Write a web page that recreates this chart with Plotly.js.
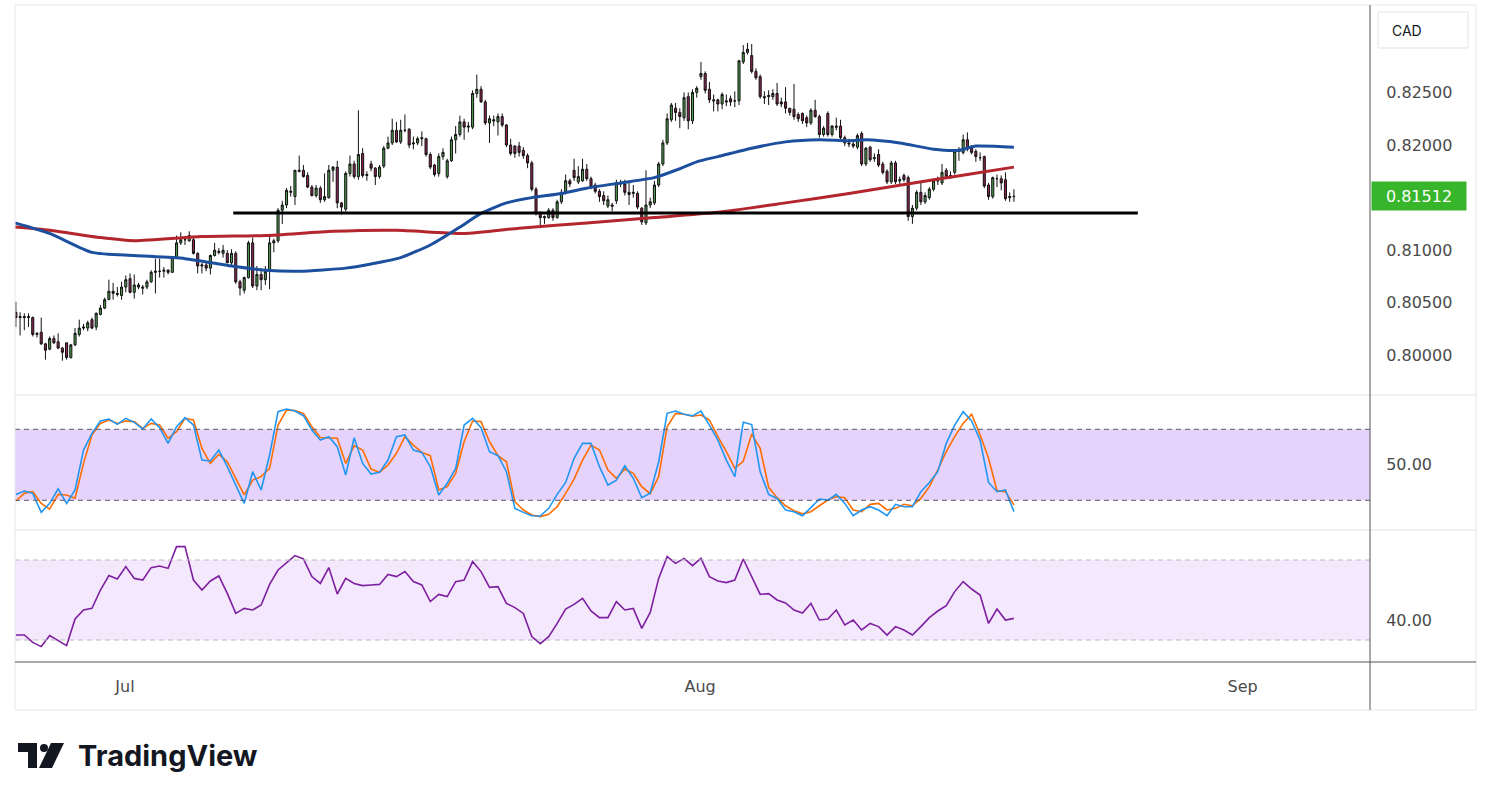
<!DOCTYPE html>
<html>
<head>
<meta charset="utf-8">
<script src="https://cdn.plot.ly/plotly-3.0.1.min.js"></script>
<style>
  html, body { margin: 0; padding: 0; background: #fff; }
  #chart { width: 1491px; height: 800px; }
</style>
</head>
<body>
<div id="chart"></div>
<script>
// 4h candles, one entry per bar (index 0 = first bar on the left)
const open = [
  0.8041,0.8036,0.8037,0.8036,0.8036,0.8020,0.8022,0.8011,0.8006,0.8016,
  0.8013,0.8007,0.8012,0.7998,0.8010,0.8020,0.8026,0.8026,0.8034,0.8027,
  0.8039,0.8045,0.8053,0.8061,0.8059,0.8057,0.8065,0.8073,0.8060,0.8067,
  0.8065,0.8065,0.8070,0.8079,0.8080,0.8080,0.8081,0.8079,0.8093,0.8107,
  0.8110,0.8109,0.8110,0.8097,0.8085,0.8086,0.8083,0.8095,0.8099,0.8097,
  0.8097,0.8088,0.8097,0.8070,0.8062,0.8074,0.8107,0.8066,0.8077,0.8072,
  0.8081,0.8107,0.8109,0.8138,0.8143,0.8155,0.8151,0.8176,0.8176,0.8171,
  0.8160,0.8152,0.8159,0.8148,0.8150,0.8176,0.8179,0.8145,0.8139,0.8173,
  0.8182,0.8170,0.8192,0.8171,0.8182,0.8178,0.8170,0.8180,0.8197,0.8202,
  0.8214,0.8203,0.8214,0.8215,0.8201,0.8202,0.8206,0.8206,0.8191,0.8181,
  0.8173,0.8189,0.8170,0.8185,0.8205,0.8210,0.8222,0.8217,0.8217,0.8249,
  0.8253,0.8241,0.8221,0.8224,0.8222,0.8227,0.8219,0.8200,0.8199,0.8199,
  0.8195,0.8190,0.8183,0.8158,0.8136,0.8132,0.8131,0.8138,0.8131,0.8146,
  0.8155,0.8166,0.8176,0.8165,0.8166,0.8177,0.8168,0.8162,0.8156,0.8152,
  0.8142,0.8143,0.8147,0.8163,0.8163,0.8155,0.8154,0.8154,0.8140,0.8126,
  0.8143,0.8145,0.8162,0.8182,0.8202,0.8224,0.8235,0.8231,0.8226,0.8246,
  0.8223,0.8250,0.8265,0.8268,0.8253,0.8243,0.8243,0.8239,0.8242,0.8244,
  0.8242,0.8242,0.8279,0.8288,0.8285,0.8270,0.8265,0.8246,0.8246,0.8246,
  0.8249,0.8241,0.8241,0.8235,0.8234,0.8229,0.8230,0.8226,0.8221,0.8233,
  0.8227,0.8210,0.8230,0.8210,0.8218,0.8218,0.8207,0.8202,0.8201,0.8198,
  0.8211,0.8182,0.8198,0.8187,0.8191,0.8182,0.8175,0.8165,0.8183,0.8166,
  0.8171,0.8169,0.8132,0.8140,0.8155,0.8146,0.8150,0.8158,0.8166,0.8164,
  0.8176,0.8171,0.8174,0.8194,0.8193,0.8205,0.8197,0.8194,0.8188,0.8189,
  0.8162,0.8151,0.8168,0.8168,0.8167,0.8150,0.8151
];
const high = [
  0.8051,0.8041,0.8040,0.8040,0.8037,0.8022,0.8036,0.8012,0.8018,0.8019,
  0.8021,0.8008,0.8012,0.8011,0.8026,0.8034,0.8030,0.8033,0.8036,0.8041,
  0.8048,0.8055,0.8072,0.8069,0.8065,0.8070,0.8076,0.8078,0.8077,0.8069,
  0.8067,0.8072,0.8081,0.8092,0.8092,0.8084,0.8082,0.8093,0.8114,0.8117,
  0.8112,0.8118,0.8112,0.8098,0.8088,0.8089,0.8096,0.8107,0.8102,0.8105,
  0.8100,0.8101,0.8099,0.8072,0.8075,0.8109,0.8112,0.8085,0.8083,0.8085,
  0.8113,0.8111,0.8140,0.8147,0.8159,0.8161,0.8176,0.8190,0.8181,0.8174,
  0.8162,0.8162,0.8161,0.8173,0.8181,0.8180,0.8185,0.8146,0.8175,0.8190,
  0.8185,0.8233,0.8197,0.8175,0.8185,0.8179,0.8181,0.8199,0.8208,0.8225,
  0.8222,0.8224,0.8229,0.8216,0.8208,0.8208,0.8213,0.8207,0.8193,0.8182,
  0.8192,0.8197,0.8187,0.8208,0.8218,0.8228,0.8225,0.8222,0.8252,0.8267,
  0.8256,0.8243,0.8228,0.8228,0.8230,0.8230,0.8220,0.8206,0.8200,0.8203,
  0.8198,0.8192,0.8185,0.8160,0.8137,0.8133,0.8140,0.8140,0.8148,0.8158,
  0.8172,0.8168,0.8187,0.8180,0.8187,0.8182,0.8170,0.8164,0.8158,0.8156,
  0.8152,0.8145,0.8167,0.8167,0.8167,0.8166,0.8162,0.8156,0.8141,0.8176,
  0.8150,0.8166,0.8184,0.8205,0.8230,0.8240,0.8240,0.8235,0.8250,0.8250,
  0.8253,0.8256,0.8279,0.8270,0.8260,0.8248,0.8244,0.8250,0.8248,0.8247,
  0.8251,0.8281,0.8295,0.8297,0.8296,0.8273,0.8267,0.8251,0.8252,0.8253,
  0.8259,0.8245,0.8255,0.8235,0.8258,0.8231,0.8231,0.8228,0.8235,0.8243,
  0.8229,0.8218,0.8232,0.8219,0.8226,0.8224,0.8209,0.8206,0.8205,0.8211,
  0.8213,0.8198,0.8199,0.8192,0.8196,0.8184,0.8177,0.8185,0.8185,0.8170,
  0.8173,0.8171,0.8143,0.8157,0.8165,0.8155,0.8160,0.8168,0.8170,0.8182,
  0.8178,0.8175,0.8196,0.8198,0.8210,0.8212,0.8200,0.8196,0.8193,0.8190,
  0.8164,0.8170,0.8172,0.8171,0.8174,0.8155,0.8158
];
const low = [
  0.8027,0.8019,0.8024,0.8027,0.8018,0.8017,0.8010,0.7996,0.8005,0.8011,
  0.8006,0.7995,0.7996,0.7997,0.8009,0.8018,0.8024,0.8023,0.8025,0.8024,
  0.8038,0.8044,0.8053,0.8053,0.8056,0.8053,0.8060,0.8059,0.8054,0.8063,
  0.8058,0.8063,0.8069,0.8059,0.8074,0.8074,0.8077,0.8079,0.8092,0.8105,
  0.8105,0.8108,0.8096,0.8078,0.8078,0.8080,0.8077,0.8094,0.8096,0.8093,
  0.8088,0.8085,0.8068,0.8057,0.8059,0.8073,0.8064,0.8062,0.8062,0.8067,
  0.8063,0.8098,0.8107,0.8125,0.8140,0.8151,0.8143,0.8174,0.8169,0.8159,
  0.8151,0.8150,0.8145,0.8146,0.8149,0.8165,0.8140,0.8134,0.8137,0.8170,
  0.8168,0.8167,0.8169,0.8166,0.8175,0.8162,0.8168,0.8178,0.8196,0.8200,
  0.8202,0.8201,0.8212,0.8197,0.8196,0.8200,0.8199,0.8189,0.8177,0.8170,
  0.8170,0.8186,0.8168,0.8184,0.8192,0.8208,0.8205,0.8212,0.8215,0.8245,
  0.8240,0.8219,0.8202,0.8218,0.8209,0.8217,0.8198,0.8190,0.8188,0.8189,
  0.8187,0.8178,0.8156,0.8133,0.8121,0.8125,0.8130,0.8128,0.8130,0.8144,
  0.8153,0.8160,0.8166,0.8163,0.8165,0.8166,0.8158,0.8154,0.8146,0.8143,
  0.8140,0.8137,0.8144,0.8160,0.8152,0.8143,0.8150,0.8139,0.8124,0.8124,
  0.8140,0.8143,0.8160,0.8180,0.8200,0.8222,0.8223,0.8216,0.8223,0.8215,
  0.8220,0.8245,0.8262,0.8249,0.8240,0.8232,0.8232,0.8234,0.8237,0.8237,
  0.8236,0.8238,0.8277,0.8286,0.8268,0.8262,0.8244,0.8239,0.8238,0.8243,
  0.8237,0.8236,0.8230,0.8228,0.8224,0.8222,0.8220,0.8217,0.8219,0.8226,
  0.8207,0.8208,0.8208,0.8208,0.8214,0.8205,0.8199,0.8198,0.8197,0.8196,
  0.8180,0.8180,0.8184,0.8184,0.8179,0.8172,0.8163,0.8163,0.8163,0.8163,
  0.8165,0.8128,0.8125,0.8138,0.8143,0.8144,0.8148,0.8156,0.8162,0.8162,
  0.8168,0.8168,0.8172,0.8185,0.8191,0.8194,0.8191,0.8184,0.8185,0.8159,
  0.8148,0.8149,0.8160,0.8157,0.8147,0.8146,0.8146
];
const close = [
  0.8036,0.8037,0.8036,0.8037,0.8020,0.8021,0.8011,0.8005,0.8016,0.8012,
  0.8007,0.8003,0.7998,0.8010,0.8021,0.8026,0.8027,0.8031,0.8026,0.8040,
  0.8045,0.8053,0.8061,0.8059,0.8058,0.8065,0.8072,0.8060,0.8067,0.8065,
  0.8064,0.8070,0.8079,0.8080,0.8080,0.8081,0.8079,0.8093,0.8107,0.8110,
  0.8110,0.8114,0.8097,0.8085,0.8086,0.8083,0.8095,0.8100,0.8098,0.8100,
  0.8088,0.8097,0.8070,0.8064,0.8074,0.8107,0.8066,0.8077,0.8072,0.8080,
  0.8107,0.8109,0.8138,0.8143,0.8157,0.8156,0.8176,0.8175,0.8170,0.8160,
  0.8152,0.8159,0.8148,0.8151,0.8176,0.8179,0.8145,0.8141,0.8173,0.8182,
  0.8170,0.8191,0.8171,0.8172,0.8178,0.8170,0.8179,0.8197,0.8202,0.8214,
  0.8203,0.8214,0.8214,0.8200,0.8202,0.8206,0.8207,0.8191,0.8179,0.8172,
  0.8189,0.8193,0.8185,0.8205,0.8210,0.8222,0.8217,0.8218,0.8249,0.8253,
  0.8241,0.8221,0.8225,0.8223,0.8227,0.8219,0.8200,0.8192,0.8192,0.8193,
  0.8190,0.8183,0.8158,0.8135,0.8131,0.8131,0.8138,0.8131,0.8146,0.8155,
  0.8166,0.8163,0.8169,0.8170,0.8177,0.8168,0.8160,0.8156,0.8151,0.8147,
  0.8148,0.8142,0.8164,0.8164,0.8155,0.8153,0.8155,0.8141,0.8127,0.8143,
  0.8146,0.8162,0.8182,0.8202,0.8225,0.8238,0.8231,0.8227,0.8245,0.8223,
  0.8250,0.8254,0.8268,0.8252,0.8243,0.8242,0.8239,0.8248,0.8241,0.8241,
  0.8242,0.8280,0.8288,0.8291,0.8270,0.8264,0.8246,0.8245,0.8247,0.8249,
  0.8239,0.8239,0.8235,0.8231,0.8227,0.8225,0.8223,0.8221,0.8233,0.8227,
  0.8210,0.8216,0.8210,0.8218,0.8217,0.8207,0.8202,0.8201,0.8199,0.8209,
  0.8182,0.8197,0.8186,0.8188,0.8181,0.8174,0.8165,0.8183,0.8165,0.8167,
  0.8167,0.8132,0.8140,0.8155,0.8146,0.8152,0.8158,0.8166,0.8166,0.8174,
  0.8170,0.8171,0.8194,0.8195,0.8205,0.8196,0.8193,0.8189,0.8188,0.8161,
  0.8151,0.8169,0.8168,0.8164,0.8149,0.8151,0.81512
];

// moving averages, read at a few bars and drawn as smooth lines
const maFastBar = [-0.2, 8, 18, 28, 40, 51, 59, 67, 78, 84, 91, 98, 101, 105, 110, 116, 122, 129, 135,
  143, 151, 156, 161, 166, 174, 182, 190, 197, 201, 209, 217, 223, 227, 236];
const maFast = [0.8126, 0.8116, 0.8098, 0.8095, 0.8092, 0.8085, 0.8081, 0.8080, 0.8083, 0.8087,
  0.8093, 0.8105, 0.8112, 0.8122, 0.8135, 0.8145, 0.8150, 0.8154, 0.8159, 0.8164, 0.8169, 0.8176,
  0.8184, 0.8189, 0.8197, 0.8203, 0.8205, 0.8204, 0.8205, 0.8202, 0.8196, 0.8195, 0.8199, 0.8198];
const maSlowBar = [-0.2, 8, 20, 28, 44, 59, 75, 90, 106, 119, 135, 151, 166, 182, 197, 217, 225, 236];
const maSlow = [0.8122, 0.8119, 0.8112, 0.8109, 0.8113, 0.8114, 0.8118, 0.8119, 0.8116, 0.8121,
  0.8126, 0.8131, 0.8136, 0.8145, 0.8154, 0.8167, 0.8172, 0.8179];

// horizontal support drawn on the chart
const supportLevel = 0.81354;
const supportBars = [51.4, 265.3];

// oscillators, read every second bar
const stochK = [
  25.0, 27.8, 25.9, 9.8, 17.4, 29.6, 17.4, 28.7, 62.5, 76.6,
  87.0, 88.7, 84.2, 89.3, 85.9, 80.3, 88.7, 81.4, 68.1, 82.2,
  89.9, 83.6, 54.0, 53.2, 62.5, 48.4, 32.9, 17.4, 44.2, 28.7,
  58.3, 94.9, 97.2, 95.5, 91.5, 79.4, 71.0, 73.8, 65.3, 41.4,
  72.9, 51.2, 42.2, 43.6, 54.0, 73.8, 75.2, 62.5, 60.5, 48.4,
  24.5, 34.4, 47.0, 83.6, 89.3, 81.4, 61.1, 57.7, 44.2, 13.2,
  9.8, 7.0, 6.7, 13.2, 25.0, 35.1, 55.5, 68.1, 68.1, 48.4,
  32.9, 37.1, 49.2, 38.6, 22.2, 25.9, 52.6, 93.5, 95.5, 92.7,
  91.4, 95.5, 83.6, 70.9, 54.0, 39.9, 86.0, 84.0, 44.2, 25.0,
  21.6, 11.8, 10.4, 7.0, 13.8, 21.1, 20.2, 25.0, 17.4, 7.0,
  11.8, 14.6, 11.8, 7.0, 16.6, 14.6, 14.6, 27.3, 35.1, 44.2,
  68.1, 83.6, 94.9, 87.0, 70.9, 35.1, 27.3, 28.7, 10.4
];
const stochD = [
  19.4, 25.9, 27.3, 17.4, 12.6, 25.0, 24.5, 21.7, 51.2, 75.2,
  85.0, 87.9, 85.0, 87.0, 86.5, 80.8, 85.0, 83.6, 72.4, 78.0,
  89.3, 87.9, 63.9, 51.2, 58.9, 52.6, 38.6, 24.5, 37.1, 40.0,
  47.0, 83.6, 96.3, 95.8, 93.5, 82.2, 73.0, 73.0, 72.4, 51.2,
  66.2, 62.5, 46.4, 43.6, 49.8, 59.7, 73.8, 66.7, 60.5, 57.7,
  28.7, 31.5, 42.8, 69.5, 87.0, 86.5, 69.5, 57.7, 52.6, 18.8,
  11.8, 7.6, 6.2, 8.2, 14.6, 25.9, 37.9, 54.0, 66.7, 62.5,
  45.6, 38.6, 46.4, 42.8, 31.5, 25.6, 40.0, 82.2, 93.5, 92.7,
  91.0, 92.1, 87.9, 73.8, 61.1, 47.0, 53.0, 76.0, 64.0, 31.0,
  22.2, 15.4, 11.2, 8.6, 10.4, 15.4, 20.2, 23.1, 22.2, 11.8,
  10.4, 16.6, 17.4, 11.8, 13.2, 16.6, 15.4, 21.6, 31.5, 45.6,
  61.1, 73.8, 85.0, 92.7, 75.4, 55.5, 28.1, 27.3, 16.1
];
const rsi = [
  32.5, 32.5, 28.8, 26.7, 32.2, 29.5, 27.2, 40.5, 45.0, 45.8,
  55.0, 62.2, 60.5, 66.7, 60.8, 60.0, 66.2, 67.0, 65.8, 76.7,
  76.7, 60.0, 55.0, 59.5, 62.0, 53.3, 43.3, 45.8, 45.0, 47.5,
  57.8, 65.0, 68.7, 72.2, 70.5, 61.7, 58.3, 66.2, 53.0, 60.8,
  58.3, 57.2, 57.5, 57.8, 62.8, 61.7, 64.2, 59.2, 57.5, 49.2,
  52.8, 51.7, 59.2, 60.0, 69.2, 64.2, 56.3, 56.7, 48.3, 46.2,
  43.3, 31.7, 28.2, 31.7, 38.3, 45.5, 47.8, 50.8, 44.5, 41.2,
  41.2, 49.2, 45.0, 45.8, 35.8, 43.8, 60.8, 71.7, 68.3, 70.8,
  67.2, 70.8, 61.7, 59.5, 58.7, 60.0, 70.5, 61.2, 52.8, 53.2,
  50.0, 48.5, 45.0, 43.5, 48.3, 40.0, 40.5, 45.0, 37.5, 40.0,
  35.0, 38.3, 36.7, 32.5, 36.7, 35.0, 32.5, 36.7, 41.2, 44.5,
  47.2, 54.2, 59.2, 55.5, 52.5, 38.3, 45.5, 40.0, 40.8
];

const monthTicks = [25.8, 161.8, 290.1];
const monthLabels = ['Jul', 'Aug', 'Sep'];
const priceTicks = [0.800, 0.805, 0.810, 0.820, 0.825];
const lastPrice = close[close.length - 1];

const bars = close.map((_, i) => i);
const oscBars = stochK.map((_, i) => i * 2);

// pixel helpers for frame pieces outside the plot area
const ML = 15, MR = 121, MT = 5, MB = 138, W = 1491, H = 800;
const PW = W - ML - MR, PH = H - MT - MB;
const px = (x) => (x - ML) / PW;
const py = (y) => (H - MB - y) / PH;

const AXIS_FONT = { family: 'DejaVu Sans', size: 16, color: '#4a4a4a' };

const traces = [
  {
    type: 'scatter', mode: 'lines', x: maSlowBar, y: maSlow,
    line: { color: '#b3262e', width: 3, shape: 'spline', smoothing: 0.6 },
    xaxis: 'x', yaxis: 'y',
  },
  {
    type: 'scatter', mode: 'lines', x: maFastBar, y: maFast,
    line: { color: '#1d4f9f', width: 3, shape: 'spline', smoothing: 0.6 },
    xaxis: 'x', yaxis: 'y',
  },
  {
    type: 'candlestick', x: bars, open, high, low, close,
    increasing: { fillcolor: '#4f9a4f', line: { color: '#111', width: 1 } },
    decreasing: { fillcolor: '#8f2455', line: { color: '#111', width: 1 } },
    whiskerwidth: 0,
    xaxis: 'x', yaxis: 'y',
  },
  {
    type: 'scatter', mode: 'lines', x: oscBars, y: stochD,
    line: { color: '#ff6d00', width: 1.6 }, xaxis: 'x', yaxis: 'y2',
  },
  {
    type: 'scatter', mode: 'lines', x: oscBars, y: stochK,
    line: { color: '#2196f3', width: 1.6 }, xaxis: 'x', yaxis: 'y2',
  },
  {
    type: 'scatter', mode: 'lines', x: oscBars, y: rsi,
    line: { color: '#7e1fa0', width: 1.6 }, xaxis: 'x', yaxis: 'y3',
  },
];

const mainDomain = [py(395), 1];
const stochDomain = [py(530), py(395)];
const rsiDomain = [0, py(530)];

const sideAxis = {
  side: 'right', anchor: 'x', showgrid: false, zeroline: false, showline: false,
  ticks: 'outside', ticklen: 12, tickcolor: 'rgba(0,0,0,0)', tickfont: AXIS_FONT,
  fixedrange: true,
};

const line = (x0, y0, x1, y1, color, width, dash) => ({
  type: 'line', xref: 'paper', yref: 'paper', x0, y0, x1, y1,
  line: { color, width, dash: dash || 'solid' },
});

const shapes = [
  // oscillator bands
  { type: 'rect', xref: 'paper', yref: 'y2', x0: 0, x1: 1, y0: 20, y1: 80,
    fillcolor: '#e6d3fb', line: { width: 0 }, layer: 'below' },
  { type: 'line', xref: 'paper', yref: 'y2', x0: 0, x1: 1, y0: 80, y1: 80,
    line: { color: '#5b5b6b', width: 1, dash: '5px,4px' } },
  { type: 'line', xref: 'paper', yref: 'y2', x0: 0, x1: 1, y0: 20, y1: 20,
    line: { color: '#5b5b6b', width: 1, dash: '5px,4px' } },
  { type: 'rect', xref: 'paper', yref: 'y3', x0: 0, x1: 1, y0: 30, y1: 70,
    fillcolor: '#f4e8fd', line: { width: 0 }, layer: 'below' },
  { type: 'line', xref: 'paper', yref: 'y3', x0: 0, x1: 1, y0: 70, y1: 70,
    line: { color: '#b8b8c0', width: 1, dash: '5px,4px' } },
  { type: 'line', xref: 'paper', yref: 'y3', x0: 0, x1: 1, y0: 30, y1: 30,
    line: { color: '#b8b8c0', width: 1, dash: '5px,4px' } },
  // support line
  { type: 'line', xref: 'x', yref: 'y', x0: supportBars[0], x1: supportBars[1],
    y0: supportLevel, y1: supportLevel, line: { color: '#000', width: 3 } },
  // frame
  { type: 'rect', xref: 'paper', yref: 'paper', x0: 0, x1: px(1476), y0: py(710), y1: py(5),
    line: { color: '#e8e8ec', width: 1 } },
  line(0, py(395), px(1476), py(395), '#e0e3eb', 1),
  line(0, py(530), px(1476), py(530), '#e0e3eb', 1),
  line(0, 0, px(1476), 0, '#555', 1),
  line(1, py(710), 1, py(5), '#555', 1),
  // currency box
  { type: 'rect', xref: 'paper', yref: 'paper', x0: px(1378), x1: px(1468), y0: py(48), y1: py(12),
    line: { color: '#e0e3eb', width: 1 }, fillcolor: '#fff' },
  // TradingView mark
  { type: 'rect', xref: 'paper', yref: 'paper', x0: px(18), x1: px(37), y0: py(752), y1: py(743),
    line: { width: 0 }, fillcolor: '#131722' },
  { type: 'rect', xref: 'paper', yref: 'paper', x0: px(28), x1: px(37), y0: py(768), y1: py(743),
    line: { width: 0 }, fillcolor: '#131722' },
  { type: 'circle', xref: 'paper', yref: 'paper', x0: px(40), x1: px(48), y0: py(752), y1: py(744),
    line: { width: 0 }, fillcolor: '#131722' },
  { type: 'path', xref: 'paper', yref: 'paper', line: { width: 0 }, fillcolor: '#131722',
    path: `M ${px(51)},${py(743)} L ${px(64)},${py(743)} L ${px(52)},${py(768)} L ${px(39)},${py(768)} Z` },
];

const annotations = [
  { xref: 'paper', yref: 'y', x: 1 + 1 / PW, y: lastPrice, xanchor: 'left', yanchor: 'middle',
    text: lastPrice.toFixed(5), showarrow: false, bgcolor: '#37b52b', width: 86, height: 20,
    borderpad: 4, align: 'center', font: { family: 'DejaVu Sans', size: 16, color: '#fff' } },
  { xref: 'paper', yref: 'paper', x: px(1390), y: py(30), xanchor: 'left', yanchor: 'middle',
    text: 'CAD', showarrow: false, font: { family: 'Inter', size: 14, color: '#131722' } },
  { xref: 'paper', yref: 'paper', x: px(76), y: py(755), xanchor: 'left', yanchor: 'middle',
    text: '<b>TradingView</b>', showarrow: false,
    font: { family: 'Inter', size: 29, color: '#131722' } },
];

const layout = {
  width: W, height: H,
  margin: { l: ML, r: MR, t: MT, b: MB },
  paper_bgcolor: '#fff', plot_bgcolor: '#fff',
  showlegend: false,
  hovermode: false,
  boxgap: 0.3,
  xaxis: {
    range: [-0.2, 320.2], anchor: 'y3', showgrid: false, zeroline: false, showline: false,
    tickmode: 'array', tickvals: monthTicks, ticktext: monthLabels,
    ticks: 'outside', ticklen: 10, tickcolor: 'rgba(0,0,0,0)', tickfont: AXIS_FONT,
    rangeslider: { visible: false }, fixedrange: true,
  },
  yaxis: Object.assign({}, sideAxis, {
    domain: mainDomain, range: [0.79624, 0.83331],
    tickmode: 'array', tickvals: priceTicks, tickformat: '.5f',
  }),
  yaxis2: Object.assign({}, sideAxis, {
    domain: stochDomain, range: [-5.1, 109],
    tickmode: 'array', tickvals: [50], tickformat: '.2f',
  }),
  yaxis3: Object.assign({}, sideAxis, {
    domain: rsiDomain, range: [19, 85],
    tickmode: 'array', tickvals: [40], tickformat: '.2f',
  }),
  shapes,
  annotations,
};

Plotly.newPlot('chart', traces, layout, { displayModeBar: false, staticPlot: true });
</script>
</body>
</html>
